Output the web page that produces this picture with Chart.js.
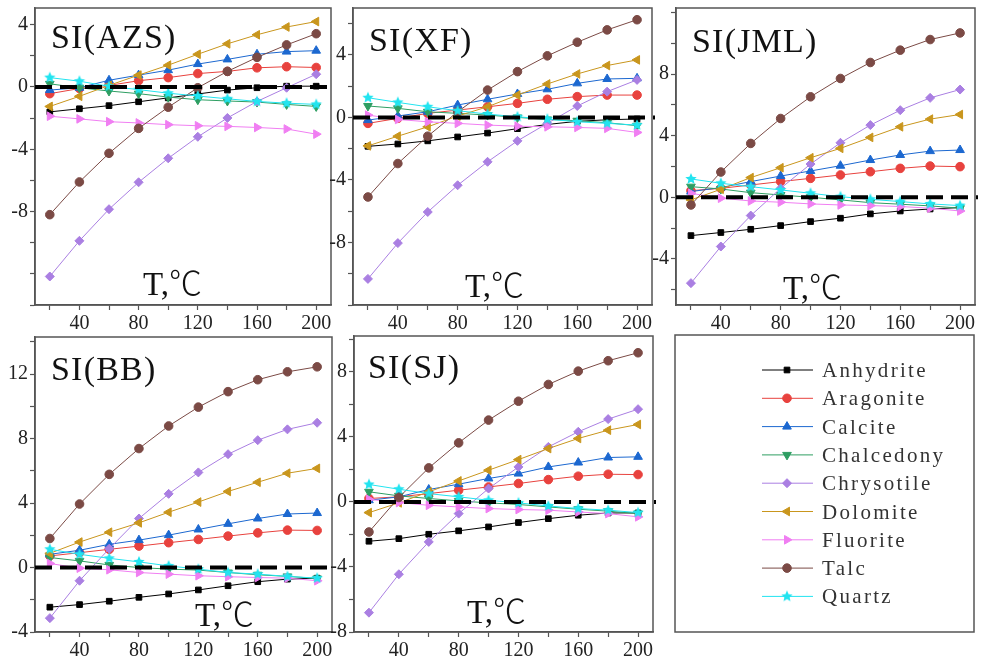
<!DOCTYPE html>
<html><head><meta charset="utf-8">
<script src="https://cdn.jsdelivr.net/npm/chart.js@4.4.1/dist/chart.umd.min.js"></script>
<style>
html,body{margin:0;padding:0;background:#fff}
body{width:981px;height:659px;overflow:hidden;position:relative;font-family:'Liberation Serif',serif}
canvas{position:absolute;display:block}
.title{position:absolute;font-size:34px;line-height:34px;letter-spacing:1.2px;color:#111;white-space:nowrap}
.tlab{position:absolute;font-size:33px;line-height:33px;color:#111;white-space:nowrap;font-family:'Liberation Serif','Noto Sans CJK SC',serif}
.tlab span{font-family:'Noto Sans CJK SC',sans-serif;font-weight:300}
.leg{position:absolute;font-size:21px;line-height:28px;letter-spacing:2.3px;color:#333;white-space:nowrap}
</style>
</head><body>
<script>
// ---------- data ----------
const temps = [20, 40, 60, 80, 100, 120, 140, 160, 180, 200];
const minerals = ['Anhydrite','Aragonite','Calcite','Chalcedony','Chrysotile','Dolomite','Fluorite','Talc','Quartz'];
const xTickLabels = [40, 80, 120, 160, 200];

// rows follow the order of `minerals`
const siAZS = [
  [-1.6,-1.4,-1.2,-0.95,-0.7,-0.45,-0.2,-0.05,0.05,0.05],
  [-0.43,-0.1,0.1,0.4,0.6,0.86,1.0,1.23,1.3,1.25],
  [-0.2,-0.05,0.43,0.76,1.08,1.47,1.77,2.1,2.27,2.33],
  [0.2,-0.05,-0.26,-0.43,-0.65,-0.82,-0.9,-0.97,-1.12,-1.25],
  [-12.17,-9.88,-7.85,-6.12,-4.58,-3.2,-1.99,-0.93,-0.05,0.82],
  [-1.25,-0.6,0.1,0.76,1.4,2.1,2.77,3.35,3.85,4.2],
  [-1.88,-2.05,-2.23,-2.31,-2.42,-2.49,-2.53,-2.6,-2.7,-3.03],
  [-8.2,-6.1,-4.26,-2.66,-1.3,-0.05,1.0,1.9,2.7,3.42],
  [0.6,0.37,0.04,-0.17,-0.4,-0.58,-0.76,-0.93,-1.04,-1.12]
];
const siXF = [
  [-1.85,-1.7,-1.5,-1.25,-1.0,-0.72,-0.45,-0.25,-0.15,-0.1],
  [-0.38,-0.06,0.26,0.47,0.68,0.9,1.16,1.33,1.43,1.43],
  [-0.17,0.09,0.36,0.79,1.16,1.5,1.8,2.18,2.46,2.5],
  [0.73,0.58,0.36,0.26,0.15,0.0,-0.13,-0.21,-0.34,-0.53],
  [-10.33,-8.04,-6.05,-4.34,-2.84,-1.5,-0.38,0.73,1.65,2.4],
  [-1.82,-1.2,-0.6,0.09,0.68,1.43,2.14,2.78,3.32,3.68],
  [0.15,-0.13,-0.28,-0.38,-0.49,-0.56,-0.6,-0.64,-0.7,-0.96],
  [-5.09,-2.95,-1.2,0.36,1.75,2.93,3.94,4.81,5.6,6.25],
  [1.26,0.96,0.68,0.43,0.21,0.04,-0.11,-0.28,-0.38,-0.49]
];
const siJML = [
  [-2.49,-2.29,-2.08,-1.84,-1.58,-1.36,-1.08,-0.89,-0.76,-0.67],
  [0.43,0.58,0.8,1.02,1.23,1.45,1.66,1.88,2.03,1.99],
  [0.37,0.63,1.02,1.38,1.71,2.05,2.42,2.75,3.0,3.07],
  [0.69,0.54,0.3,0.15,0,-0.17,-0.35,-0.45,-0.56,-0.71],
  [-5.58,-3.2,-1.19,0.58,2.16,3.54,4.69,5.66,6.46,7.0],
  [-0.17,0.52,1.28,1.92,2.57,3.18,3.89,4.58,5.08,5.38],
  [0.26,-0.06,-0.24,-0.32,-0.43,-0.5,-0.54,-0.6,-0.71,-0.89],
  [-0.5,1.64,3.5,5.12,6.53,7.72,8.76,9.56,10.25,10.68],
  [1.19,0.91,0.69,0.48,0.26,0.04,-0.13,-0.28,-0.43,-0.54]
];
const siBB = [
  [-2.46,-2.3,-2.09,-1.85,-1.64,-1.39,-1.13,-0.88,-0.72,-0.66],
  [0.72,0.92,1.13,1.33,1.54,1.74,1.95,2.15,2.32,2.3],
  [0.82,1.07,1.44,1.7,2.01,2.36,2.71,3.04,3.32,3.38],
  [0.62,0.41,0.16,0,-0.1,-0.16,-0.31,-0.45,-0.55,-0.68],
  [-3.14,-0.82,1.17,3.04,4.57,5.9,7.03,7.9,8.57,8.98],
  [0.88,1.58,2.19,2.77,3.43,4.06,4.72,5.29,5.85,6.15],
  [0.25,-0.04,-0.14,-0.31,-0.41,-0.51,-0.57,-0.62,-0.66,-0.82],
  [1.8,3.94,5.78,7.38,8.78,9.95,10.91,11.65,12.14,12.45],
  [1.13,0.82,0.57,0.35,0.1,-0.1,-0.31,-0.41,-0.55,-0.66]
];
const siSJ = [
  [-2.42,-2.26,-1.99,-1.78,-1.54,-1.27,-1.03,-0.82,-0.68,-0.68],
  [0.21,0.31,0.51,0.72,0.92,1.13,1.37,1.58,1.7,1.68],
  [0.1,0.31,0.76,1.09,1.44,1.74,2.15,2.42,2.73,2.77],
  [0.62,0.37,0.21,0.06,-0.06,-0.16,-0.31,-0.45,-0.57,-0.72],
  [-6.81,-4.45,-2.46,-0.72,0.82,2.15,3.38,4.31,5.09,5.7],
  [-0.66,-0.06,0.62,1.29,1.95,2.6,3.28,3.9,4.41,4.76],
  [0.16,-0.04,-0.21,-0.31,-0.41,-0.47,-0.51,-0.62,-0.72,-0.92],
  [-1.85,0.27,2.09,3.63,5.03,6.19,7.22,8.04,8.68,9.17],
  [1.07,0.78,0.51,0.31,0.1,-0.06,-0.25,-0.41,-0.51,-0.66]
];

// y-axis ranges and labelled ticks per panel
const yRangeAZS = [-14, 5.07], yLabelsAZS = [4, 0, -4, -8];
const yRangeXF  = [-12, 7],    yLabelsXF  = [4, 0, -4, -8];
const yRangeJML = [-7, 12.3],  yLabelsJML = [8, 4, 0, -4];
const yRangeBB  = [-4, 14.3],  yLabelsBB  = [12, 8, 4, 0, -4];
const yRangeSJ  = [-8, 10.2],  yLabelsSJ  = [8, 4, 0, -4, -8];

// ---------- styles ----------
const colors = ['#000000','#e8423e','#1c68d0','#2e9e62','#aa7fe2','#c9961d','#f07ef2','#7b4a45','#22e4f0'];
function makeStar(color, r){
  const s = Math.ceil(r*2+2), c = document.createElement('canvas');
  c.width = c.height = s;
  const g = c.getContext('2d');
  g.fillStyle = color; g.beginPath();
  for (let k=0;k<10;k++){
    const rr = k%2 ? r*0.45 : r, a = -Math.PI/2 + k*Math.PI/5;
    g.lineTo(s/2 + rr*Math.cos(a), s/2 + rr*Math.sin(a));
  }
  g.closePath(); g.fill();
  return c;
}
const starImg = makeStar('#22e4f0', 6);
const pStyles = ['rect','circle','triangle','triangle','rectRot','triangle','triangle','circle',starImg];
const pRot    = [0,0,0,180,0,270,90,0,0];
const pRad    = [4,4.3,5,5,4.5,5,5,4.3,4];

const FONT = 'Liberation Serif';
const AXIS = '#555';

const framePlugin = {
  id:'frame',
  beforeDatasetsDraw(chart){
    const {ctx, chartArea:a} = chart;
    ctx.save(); ctx.strokeStyle = AXIS; ctx.lineWidth = 1.5;
    ctx.strokeRect(a.left, a.top, a.right-a.left, a.bottom-a.top);
    ctx.restore();
  }
};
const zeroPlugin = {
  id:'zero',
  afterDatasetsDraw(chart){
    const {ctx, chartArea:a} = chart;
    const y = chart.scales.y.getPixelForValue(0);
    ctx.save(); ctx.setLineDash([17,8]); ctx.lineWidth = 4; ctx.strokeStyle = '#000';
    ctx.beginPath(); ctx.moveTo(a.left, y); ctx.lineTo(a.right+3, y); ctx.stroke();
    ctx.restore();
  }
};

const YW = 34, XH = 30, PT = 20, PR = 20;
function makePanel(box, data, yRange, yLabels){
  const [L,T,R,B] = box;
  const cv = document.createElement('canvas');
  cv.width = YW + (R-L) + PR; cv.height = PT + (B-T) + XH;
  cv.style.left = (L-YW)+'px'; cv.style.top = (T-PT)+'px';
  document.body.appendChild(cv);
  const yTicks = [];
  for (let v = Math.ceil(yRange[0]/2)*2; v <= yRange[1]; v += 2) yTicks.push(v);
  new Chart(cv, {
    type:'line',
    data:{
      datasets: minerals.map((m,i)=>({
        label:m,
        data: temps.map((t,j)=>({x:t, y:data[i][j]})),
        borderColor:colors[i], backgroundColor:colors[i],
        pointBackgroundColor:colors[i], pointBorderColor:colors[i],
        pointStyle:pStyles[i], pointRotation:pRot[i], pointRadius:pRad[i],
        borderWidth:1, pointBorderWidth:1, tension:0, order:minerals.length-i
      }))
    },
    options:{
      responsive:false, animation:false, events:[],
      layout:{autoPadding:false, padding:{left:0, top:PT, right:PR, bottom:0}},
      plugins:{legend:{display:false}, tooltip:{enabled:false}},
      scales:{
        x:{type:'linear', min:10, max:210,
          afterBuildTicks:s=>{ s.ticks = temps.map(v=>({value:v})); },
          afterFit:s=>{ s.height = XH; },
          ticks:{autoSkip:false, maxRotation:0, padding:2, color:'#222',
            font:{family:FONT, size:20},
            callback:v=> xTickLabels.includes(v) ? String(v) : ''},
          grid:{drawOnChartArea:false, drawTicks:true, tickLength:5, tickColor:AXIS, tickWidth:1.2},
          border:{display:true, color:AXIS, width:1.5}
        },
        y:{type:'linear', min:yRange[0], max:yRange[1],
          afterBuildTicks:s=>{ s.ticks = yTicks.map(v=>({value:v})); },
          afterFit:s=>{ s.width = YW; },
          ticks:{autoSkip:false, padding:2, color:'#222',
            font:{family:FONT, size:20},
            callback:v=> yLabels.includes(v) ? String(v) : ''},
          grid:{drawOnChartArea:false, drawTicks:true, tickLength:5, tickColor:AXIS, tickWidth:1.2},
          border:{display:true, color:AXIS, width:1.5}
        }
      }
    },
    plugins:[framePlugin, zeroPlugin]
  });
}

makePanel([35,8,331,305],   siAZS, yRangeAZS, yLabelsAZS);
makePanel([353,8,652,305],  siXF,  yRangeXF,  yLabelsXF);
makePanel([676,8,975,305],  siJML, yRangeJML, yLabelsJML);
makePanel([35,337,332,632], siBB,  yRangeBB,  yLabelsBB);
makePanel([354,336,653,632],siSJ,  yRangeSJ,  yLabelsSJ);

// ---------- legend panel ----------
const LG = {x:670, y:330};
const legCv = document.createElement('canvas');
legCv.width = 310; legCv.height = 310;
legCv.style.left = LG.x+'px'; legCv.style.top = LG.y+'px';
document.body.appendChild(legCv);
const legendPlugin = {
  id:'legendBox',
  afterDraw(chart){
    const ctx = chart.ctx;
    ctx.save();
    ctx.strokeStyle = AXIS; ctx.lineWidth = 1.5;
    ctx.strokeRect(675-LG.x, 335-LG.y, 299, 297);
    chart.data.datasets.forEach((ds,i)=>{
      const y = 370 - LG.y + i*28.3;
      ctx.strokeStyle = ds.borderColor; ctx.fillStyle = ds.backgroundColor; ctx.lineWidth = 1;
      ctx.beginPath(); ctx.moveTo(762-LG.x, y); ctx.lineTo(813-LG.x, y); ctx.stroke();
      Chart.helpers.drawPoint(ctx, {pointStyle:ds.pointStyle, rotation:ds.pointRotation, radius:ds.pointRadius, borderWidth:1}, 787-LG.x, y);
    });
    ctx.restore();
  }
};
new Chart(legCv, {
  type:'line',
  data:{ datasets: minerals.map((m,i)=>({label:m, data:[], borderColor:colors[i], backgroundColor:colors[i],
    pointStyle:pStyles[i], pointRotation:pRot[i], pointRadius:pRad[i]})) },
  options:{responsive:false, animation:false, events:[],
    plugins:{legend:{display:false}, tooltip:{enabled:false}},
    scales:{x:{display:false}, y:{display:false}}},
  plugins:[legendPlugin]
});

// ---------- real text labels ----------
function addText(cls, html, left, top){
  const d = document.createElement('div');
  d.className = cls; d.innerHTML = html;
  d.style.left = left+'px'; d.style.top = top+'px';
  document.body.appendChild(d);
}
const titles = [['SI(AZS)',51,48],['SI(XF)',369,51],['SI(JML)',692,52],['SI(BB)',51,380],['SI(SJ)',368,378]];
titles.forEach(t=>addText('title', t[0], t[1], t[2]-28));
const tPos = [[143,292],[465,294],[783,296],[195,623],[467,620]];
tPos.forEach(p=>addText('tlab', 'T,<span>℃</span>', p[0], p[1]-27));
minerals.forEach((m,i)=>addText('leg', m, 822, 370 + i*28.3 - 14));
</script>
</body></html>
